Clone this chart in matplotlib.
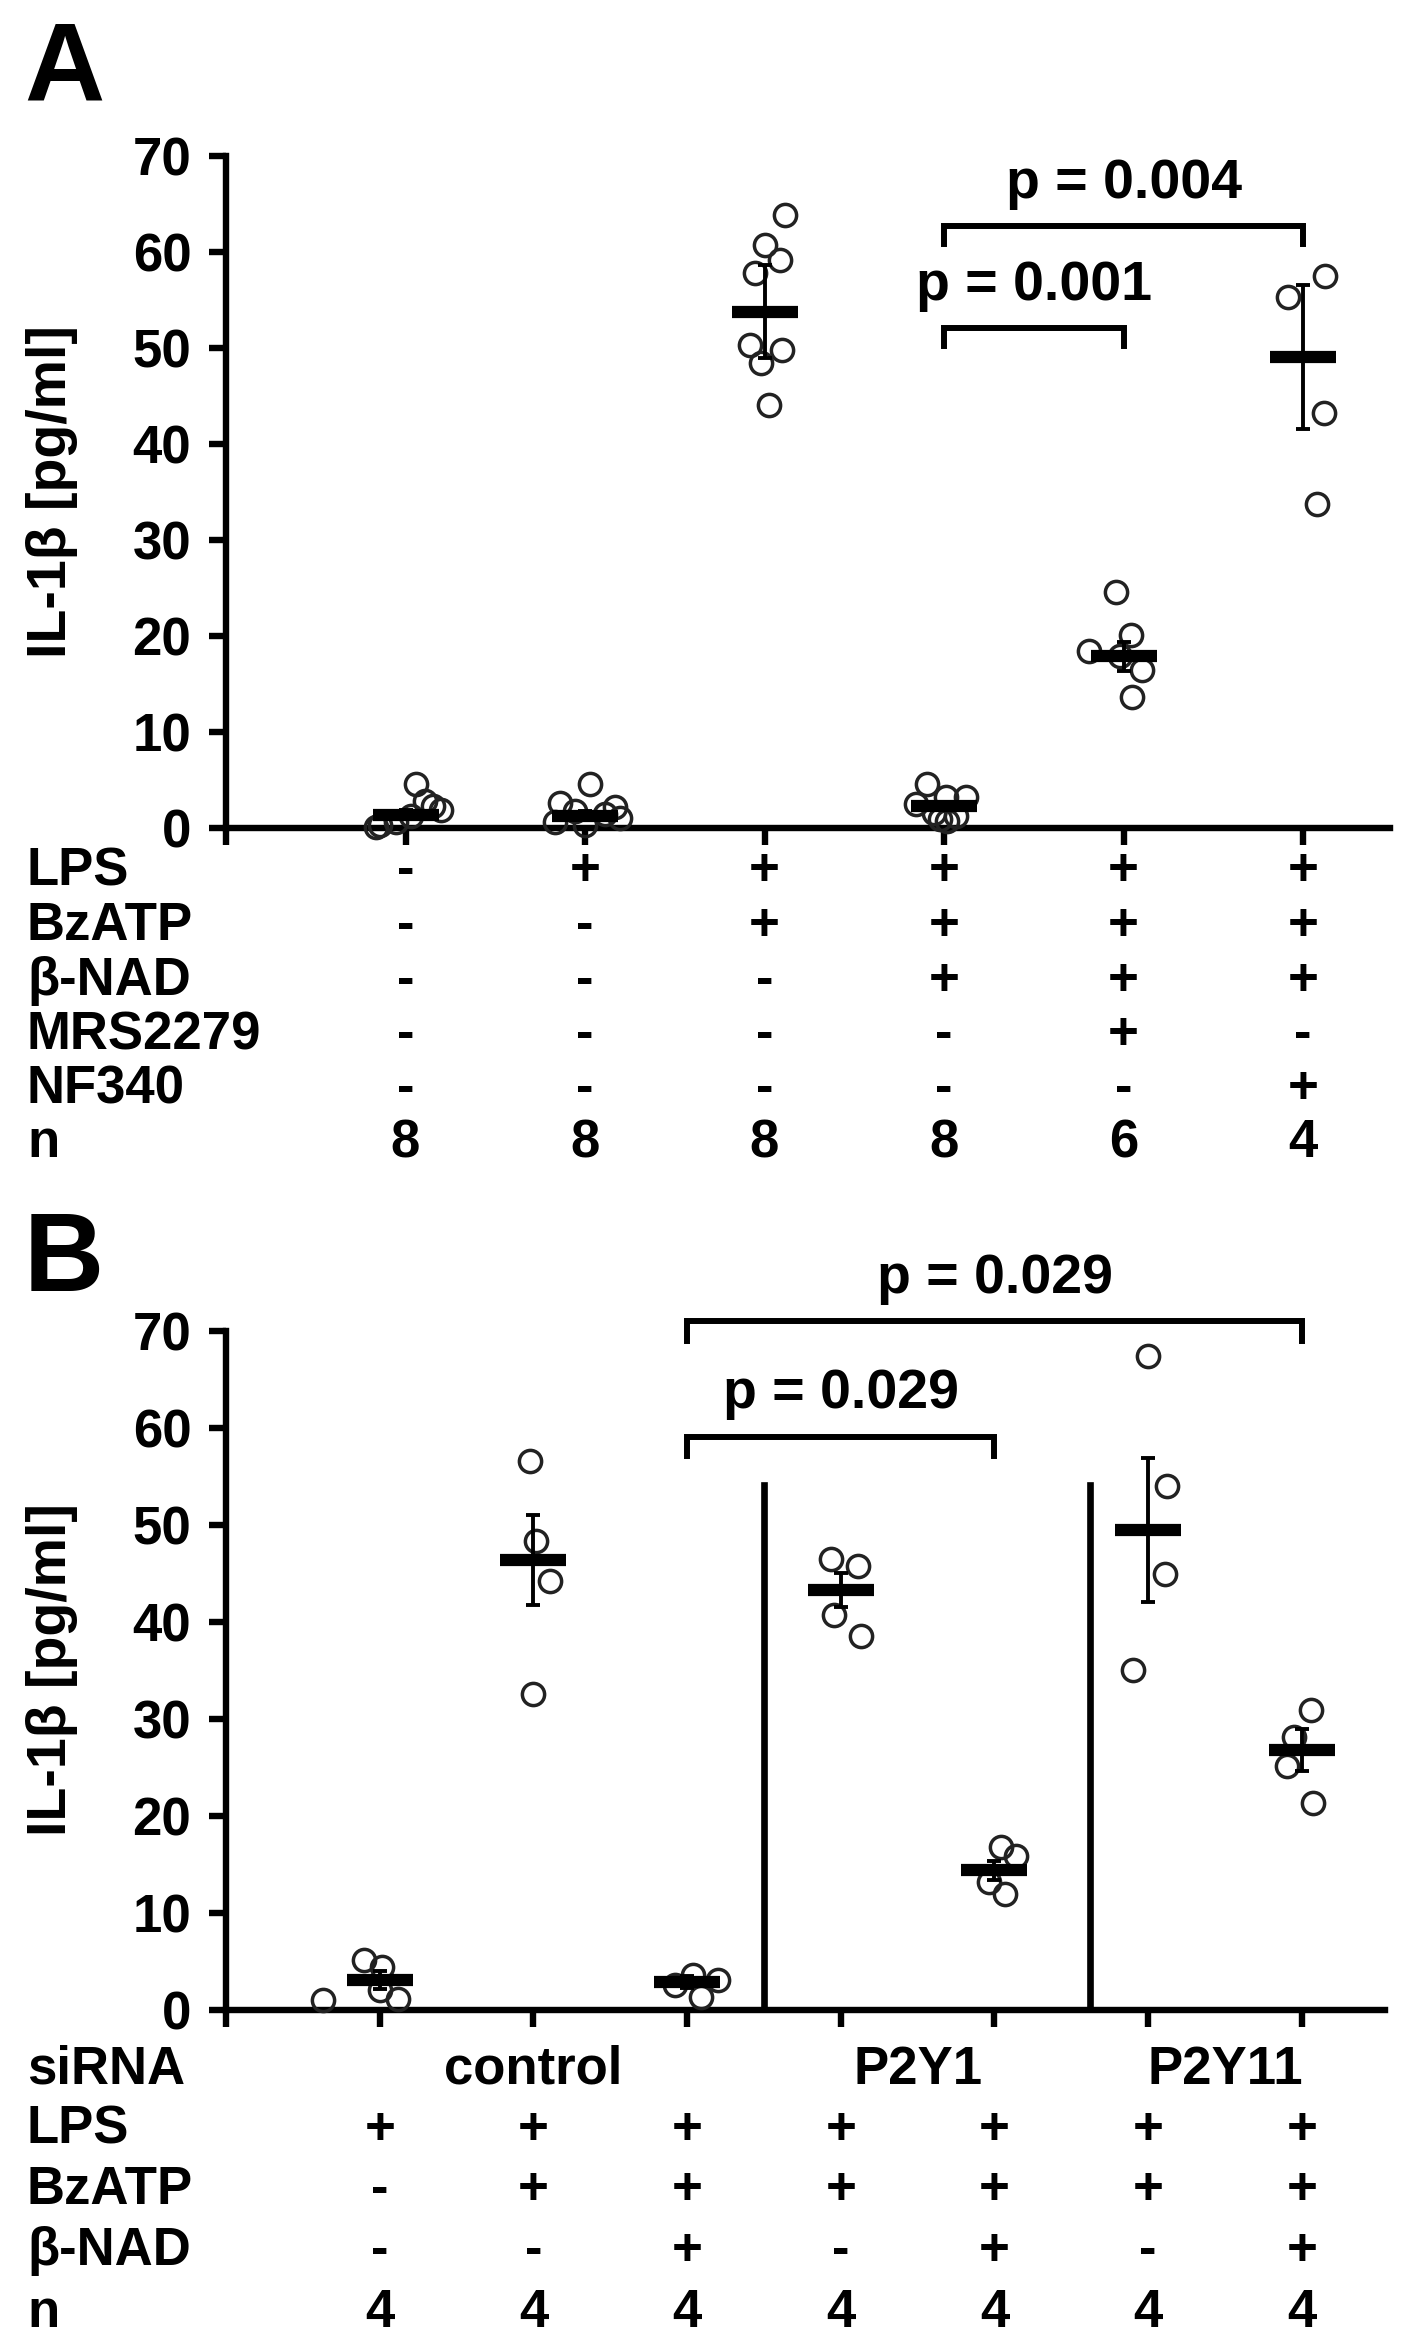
import matplotlib
matplotlib.use("Agg")
import matplotlib.pyplot as plt
from matplotlib import transforms

plt.rcParams['font.family'] = ['Liberation Sans', 'DejaVu Sans']
plt.rcParams['font.weight'] = 'bold'

# ---- Panel A data ----
a_means = [1.4, 1.3, 53.8, 2.3, 17.9, 49.1]
a_errs = [0.5, 0.5, 4.8, 0.4, 1.5, 7.5]
a_points = [
    [4.6, 2.8, 2.3, 1.9, 1.2, 0.6, 0.3, 0.1],
    [4.6, 2.6, 2.2, 1.8, 1.5, 1.0, 0.6, 0.3],
    [63.9, 60.7, 59.2, 57.8, 50.3, 49.8, 48.4, 44.1],
    [4.6, 3.2, 3.2, 2.5, 1.6, 1.2, 0.9, 0.7],
    [24.6, 20.1, 18.4, 17.9, 16.5, 13.6],
    [57.5, 55.3, 43.2, 33.7],
]
a_jitter = [
    [0.06, 0.11, 0.155, 0.195, 0.03, -0.055, -0.14, -0.165],
    [0.03, -0.14, 0.165, -0.055, 0.11, 0.195, -0.165, 0.0],
    [0.115, 0.0, 0.085, -0.055, -0.08, 0.095, -0.02, 0.025],
    [-0.094, 0.01, 0.12, -0.155, -0.055, 0.065, -0.02, 0.015],
    [-0.044, 0.04, -0.19, -0.02, 0.105, 0.046],
    [0.12, -0.086, 0.115, 0.08],
]
a_rows = ['LPS', 'BzATP', 'β-NAD', 'MRS2279', 'NF340', 'n']
a_table = [
    ['-', '+', '+', '+', '+', '+'],
    ['-', '-', '+', '+', '+', '+'],
    ['-', '-', '-', '+', '+', '+'],
    ['-', '-', '-', '-', '+', '-'],
    ['-', '-', '-', '-', '-', '+'],
    ['8', '8', '8', '8', '6', '4'],
]
# (left group, right group, bar height, label)
a_brackets = [(4, 5, 52.1, 'p = 0.001'), (4, 6, 62.7, 'p = 0.004')]

# ---- Panel B data ----
b_means = [3.1, 46.4, 2.9, 43.3, 14.4, 49.5, 26.8]
b_errs = [0.9, 4.6, 0.6, 1.8, 1.0, 7.4, 2.2]
b_points = [
    [5.2, 4.4, 2.1, 1.1, 1.0],
    [56.6, 48.4, 44.2, 32.6],
    [3.65, 3.1, 2.6, 1.3],
    [46.5, 45.8, 40.7, 38.6],
    [16.8, 15.85, 13.2, 11.95],
    [67.4, 54.0, 44.9, 35.1],
    [30.9, 28.1, 25.2, 21.3],
]
b_jitter = [
    [-0.1, 0.013, 0.0, 0.12, -0.37],
    [-0.02, 0.02, 0.11, 0.0],
    [0.04, 0.2, -0.08, 0.09],
    [-0.064, 0.11, -0.044, 0.13],
    [0.044, 0.14, -0.033, 0.07],
    [0.0, 0.12, 0.11, -0.1],
    [0.06, -0.05, -0.1, 0.07],
]
b_sirna = [(2, 'control'), (4.5, 'P2Y1'), (6.5, 'P2Y11')]
b_rows = ['siRNA', 'LPS', 'BzATP', 'β-NAD', 'n']
b_table = [
    ['+', '+', '+', '+', '+', '+', '+'],
    ['-', '+', '+', '+', '+', '+', '+'],
    ['-', '-', '+', '-', '+', '-', '+'],
    ['4', '4', '4', '4', '4', '4', '4'],
]
b_brackets = [(3, 5, 59.1, 'p = 0.029'), (3, 7, 71.0, 'p = 0.029')]
b_separators = [3.5, 5.62]
b_separator_top = 54.1

W, H = 1416, 2352
fig = plt.figure(figsize=(W / 100, H / 100), dpi=100)


def px_axes(left, top, right, bottom):
    return fig.add_axes([left / W, 1 - bottom / H, (right - left) / W, (bottom - top) / H])


def style_axes(ax, ngroups, xmax):
    ax.set_xlim(0, xmax)
    ax.set_ylim(0, 70)
    for s in ['top', 'right']:
        ax.spines[s].set_visible(False)
    for s in ['left', 'bottom']:
        ax.spines[s].set_linewidth(4.6)
    ax.set_xticks(range(ngroups + 1))
    ax.set_xticklabels([])
    ax.set_yticks(range(0, 71, 10))
    ax.tick_params(direction='out', length=12, width=4.6, labelsize=38, pad=13)
    for lab in ax.get_yticklabels():
        lab.set_fontweight('bold')
    ax.patch.set_alpha(0)


def draw_groups(ax, means, errs, points, jitter):
    for i, (m, e, vals, jit) in enumerate(zip(means, errs, points, jitter)):
        x = i + 1
        xs = [x + j for j in jit]
        ax.plot(xs, vals, 'o', ms=16, mfc='none', mec='#222222', mew=2.5,
                clip_on=False, zorder=3)
        ax.errorbar([x], [m], yerr=[e], fmt='none', ecolor='black',
                    elinewidth=2.8, capsize=4.8, capthick=2.8, zorder=4, clip_on=False)
        ax.plot([x], [m], marker='_', ms=48, mew=8.8, color='black',
                zorder=5, clip_on=False)


def draw_brackets(ax, brackets, leg):
    for x1, x2, y, label in brackets:
        ax.plot([x1, x1, x2, x2], [y - leg, y, y, y - leg], color='black',
                lw=4.3, solid_joinstyle='miter', clip_on=False)
        ax.text((x1 + x2) / 2, y + 4.4, label, ha='center', va='center',
                fontsize=40, fontweight='bold', clip_on=False)


def draw_table(ax, rows, row_y, cells, first_cell_row=0):
    tr = transforms.blended_transform_factory(ax.transData, fig.transFigure)
    for label, y in zip(rows, row_y):
        fig.text(27 / W, 1 - y / H, label, ha='left', va='center',
                 fontsize=38, fontweight='bold')
    for r, row in enumerate(cells):
        y = 1 - row_y[r + first_cell_row] / H
        for c, val in enumerate(row):
            ax.text(c + 1, y, val, transform=tr, ha='center', va='center',
                    fontsize=38, fontweight='bold')


# ---- Panel A ----
axA = px_axes(226, 156, 1390, 828)
style_axes(axA, 6, (1390 - 226) / 179.5)
draw_groups(axA, a_means, a_errs, a_points, a_jitter)
draw_brackets(axA, a_brackets, 1.9)
draw_table(axA, a_rows, [871, 926, 981, 1035, 1089, 1143], a_table)
fig.text(52 / W, 1 - 492 / H, 'IL-1β [pg/ml]', rotation=90, ha='center',
         va='center', fontsize=40, fontweight='bold')
fig.text(24 / W, 1 - 20 / H, 'A', ha='left', va='top', fontsize=80, fontweight='bold')

# ---- Panel B ----
axB = px_axes(226, 1331, 1385, 2010)
style_axes(axB, 7, (1385 - 226) / 153.7)
draw_groups(axB, b_means, b_errs, b_points, b_jitter)
draw_brackets(axB, b_brackets, 2.0)
for xs in b_separators:
    axB.plot([xs, xs], [0, b_separator_top], color='black', lw=4.8)
b_row_y = [2070, 2130, 2190, 2251, 2313]
draw_table(axB, b_rows, b_row_y, b_table, first_cell_row=1)
trB = transforms.blended_transform_factory(axB.transData, fig.transFigure)
for x, name in b_sirna:
    axB.text(x, 1 - b_row_y[0] / H, name, transform=trB, ha='center',
             va='center', fontsize=38, fontweight='bold')
fig.text(52 / W, 1 - 1670 / H, 'IL-1β [pg/ml]', rotation=90, ha='center',
         va='center', fontsize=40, fontweight='bold')
fig.text(24 / W, 1 - 1210 / H, 'B', ha='left', va='top', fontsize=80, fontweight='bold')

fig.savefig('out.png', dpi=100, facecolor='white')
